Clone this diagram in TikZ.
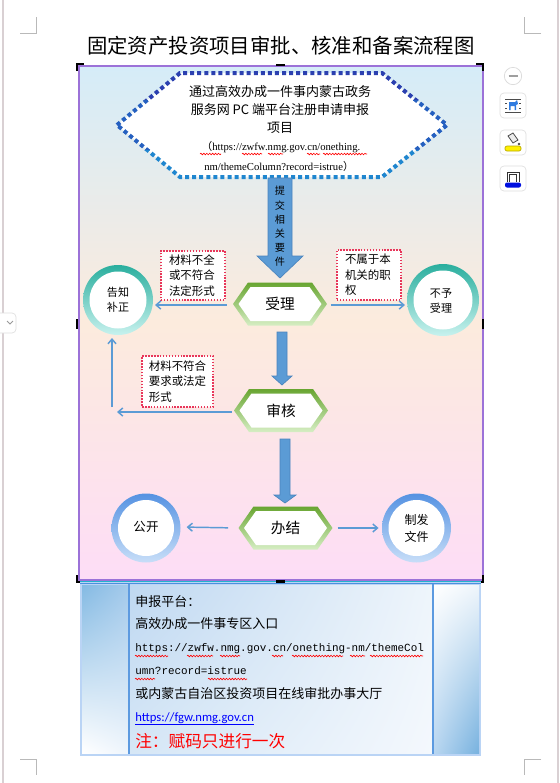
\documentclass[tikz,border=0pt]{standalone}
\usepackage{fontspec}
\setmainfont{Liberation Serif}
\newfontfamily\cjk{Noto Sans CJK SC}
\newfontfamily\monof{Liberation Mono}
\newfontfamily\calif{Carlito}
\usetikzlibrary{arrows.meta,decorations.pathmorphing,shadings}
\definecolor{arrowblue}{HTML}{5B9BD5}
\definecolor{arrowedge}{HTML}{4A84BE}
\definecolor{linkblue}{HTML}{5B9BD5}
\definecolor{dotdark}{HTML}{2B40B0}
\definecolor{dotmid}{HTML}{2560C0}
\definecolor{dotlight}{HTML}{1F86CF}
\definecolor{gdark}{HTML}{68A531}
\definecolor{glight}{HTML}{D6EEC4}
\definecolor{tealdark}{HTML}{2AAE9E}
\definecolor{teallight}{HTML}{C8F2EE}
\definecolor{bluering}{HTML}{5592E2}
\definecolor{blueringl}{HTML}{C8DEF8}
\definecolor{boxred}{HTML}{E8365A}
\definecolor{framepurple}{HTML}{9C72D8}
\definecolor{bgtop}{HTML}{D5ECF8}
\definecolor{bgmid}{HTML}{FCEBDD}
\definecolor{bgbot}{HTML}{FDDDF6}
\definecolor{panelborder}{HTML}{BAD4F5}
\definecolor{paneldiv}{HTML}{5C9AE0}
\definecolor{pagegray}{HTML}{D9D0D3}
\definecolor{lcA}{HTML}{84BAE3}
\definecolor{lcB}{HTML}{A4CAEB}
\definecolor{lcD}{HTML}{EEF5FC}
\definecolor{mcA}{HTML}{BFD8F1}
\definecolor{mcB}{HTML}{EEF5FB}
\definecolor{mcC}{HTML}{D6E7F6}
\definecolor{mcD}{HTML}{F4F8FD}
\definecolor{rcB}{HTML}{EEF5FB}
\definecolor{rcC}{HTML}{B8D6F0}
\definecolor{rcD}{HTML}{78B2DF}
\definecolor{topteal}{HTML}{22B4CC}
\definecolor{topblue}{HTML}{4A90E0}
\definecolor{dogblue}{HTML}{2F7BE0}
\definecolor{bucketedge}{HTML}{B8A800}
\definecolor{bucketyellow}{HTML}{FFF000}
\definecolor{barblue}{HTML}{0010E0}
\newcommand\hexbg[2]{%
  \shade[top color=gdark,bottom color=glight]
    (#1-47,#2) -- (#1-32,#2-21.5) -- (#1+32,#2-21.5) -- (#1+47,#2)
    -- (#1+32,#2+21.5) -- (#1-32,#2+21.5) -- cycle;
  \fill[white]
    (#1-41.5,#2) -- (#1-29.5,#2-17) -- (#1+29.5,#2-17) -- (#1+41.5,#2)
    -- (#1+29.5,#2+17) -- (#1-29.5,#2+17) -- cycle;}
\newcommand\ringbg[5]{%
  \shade[top color=#4,bottom color=#5] (#1,#2) circle[radius=#3*0.75pt];
  \fill[white] (#1,#2) circle[radius=(#3-6.5)*0.75pt];}
\begin{document}
\begin{tikzpicture}[x=0.75pt,y=-0.75pt,
  conn/.style={draw=linkblue, line width=1.1pt, -{Straight Barb[length=3.5pt,width=6pt]}},
  notebox/.style={draw=boxred, line width=1.1pt, dash pattern=on 1.1pt off 1.1pt, fill=white, align=left, inner xsep=6pt, inner ysep=0pt},
  smalltxt/.style={font=\cjk\fontsize{8.6pt}{11.6pt}\selectfont},
  hexlabel/.style={font=\cjk\fontsize{11pt}{13pt}\selectfont, minimum width=93*0.75pt, minimum height=43*0.75pt, inner sep=0pt},
  ringnode/.style={circle, minimum size=70*0.75pt, inner sep=0pt, align=center},
  wavy/.style={draw=red, line width=0.45pt, decorate, decoration={snake, segment length=2.2pt, amplitude=0.6pt}},
  blockarrow/.style={fill=arrowblue, draw=arrowedge, line width=0.5pt},
  handle/.style={draw=black, line width=1.6pt},
  panel/.style={anchor=west, inner sep=0pt},
  tbtn/.style={draw=gray!25, line width=0.5pt, rounded corners=3pt, fill=white}]
\useasboundingbox (0,0) rectangle (560,783);
\fill[white] (0,0) rectangle (560,783);
% page edges and corner marks
\draw[pagegray, line width=1.5pt] (3,0) -- (3,783);
\draw[pagegray, line width=1.5pt] (558,0) -- (558,783);
\draw[gray!55, line width=0.6pt] (20,33) -- (36,33) -- (36,17);
\draw[gray!55, line width=0.6pt] (541,33) -- (524,33) -- (524,17);
\draw[gray!55, line width=0.6pt] (20,759) -- (36,759) -- (36,775);
\draw[gray!55, line width=0.6pt] (541,759) -- (524,759) -- (524,775);
% title
\node[font=\cjk\fontsize{15.3pt}{17pt}\selectfont, inner sep=0pt] (title) at (281,46) {固定资产投资项目审批、核准和备案流程图};
% frame background
\shade[top color=bgtop, bottom color=bgbot, middle color=bgmid] (80,67) rectangle (482,579);
\draw[framepurple, line width=0.9pt] (79,66) rectangle (483,580);
% top dotted hexagon
\fill[white] (117,125) -- (180,73) -- (382,73) -- (447,125) -- (382,177) -- (180,177) -- cycle;
\begin{scope}
\clip (60,60) rectangle (500,100);
\draw[dotdark, line width=3pt, dash pattern=on 3pt off 2.3pt] (117,125) -- (180,73) -- (382,73) -- (447,125) -- (382,177) -- (180,177) -- cycle;
\end{scope}
\begin{scope}
\clip (60,100) rectangle (500,150);
\draw[dotmid, line width=3pt, dash pattern=on 3pt off 2.3pt] (117,125) -- (180,73) -- (382,73) -- (447,125) -- (382,177) -- (180,177) -- cycle;
\end{scope}
\begin{scope}
\clip (60,150) rectangle (500,200);
\draw[dotlight, line width=3pt, dash pattern=on 3pt off 2.3pt] (117,125) -- (180,73) -- (382,73) -- (447,125) -- (382,177) -- (180,177) -- cycle;
\end{scope}
\node[minimum width=330*0.75pt, minimum height=104*0.75pt, inner sep=0pt] (reg) at (282,125) {};
\node[font=\cjk\fontsize{9.75pt}{12pt}\selectfont, inner sep=0pt] (r1) at (280,92) {通过高效办成一件事内蒙古政务};
\node[font=\cjk\fontsize{9.75pt}{12pt}\selectfont, inner sep=0pt] (r2) at (280,110) {服务网 PC 端平台注册申请申报};
\node[font=\cjk\fontsize{9.75pt}{12pt}\selectfont, inner sep=0pt] (r3) at (280,128) {项目};
\node[font=\fontsize{8pt}{10pt}\selectfont, inner sep=0pt] (r4) at (281,147) {{\cjk （}https://zwfw.nmg.gov.cn/onething.};
\node[font=\fontsize{8pt}{10pt}\selectfont, inner sep=0pt] (r5) at (279,166) {nm/themeColumn?record=istrue{\cjk ）}};
\draw[wavy] (200,154) -- (221,154);
\draw[wavy] (242,154) -- (262,154);
\draw[wavy] (268,154) -- (283,154);
\draw[wavy] (307,154) -- (320,154);
\draw[wavy] (323,154) -- (367,154);
% big arrow 1
\draw[blockarrow] (268,178) -- (292,178) -- (292,256) -- (303,256) -- (280,278) -- (257,256) -- (268,256) -- cycle;
\foreach \c [count=\i from 0] in {提,交,相,关,要,件}
  \node[font=\cjk\fontsize{7.6pt}{9pt}\selectfont, inner sep=0pt] (ar\i) at (280,191+14.2*\i) {\c};
% hexagons
\hexbg{280}{304}
\node[hexlabel] (sl) at (280,304) {受理};
\hexbg{281}{410.5}
\node[hexlabel] (sh) at (281,410.5) {审核};
\hexbg{285.5}{528}
\node[hexlabel] (bj) at (285.5,528) {办结};
% arrows 2 and 3
\draw[blockarrow] (277,332) -- (287,332) -- (287,376) -- (292,376) -- (282,385) -- (272,376) -- (277,376) -- cycle;
\draw[blockarrow] (280,439) -- (290,439) -- (290,495) -- (296,495) -- (285,503) -- (274,495) -- (280,495) -- cycle;
% rings
\ringbg{118}{300}{35}{tealdark}{teallight}
\node[ringnode, font=\cjk\fontsize{8.3pt}{11.2pt}\selectfont] (gz) at (118,300) {告知\\补正};
\ringbg{443}{300}{36}{tealdark}{teallight}
\node[ringnode, font=\cjk\fontsize{8.3pt}{10.6pt}\selectfont] (by) at (441,301) {不予\\受理};
\ringbg{146}{528}{34.5}{bluering}{blueringl}
\node[ringnode, font=\cjk\fontsize{9.4pt}{12pt}\selectfont] (gk) at (146,527) {公开};
\ringbg{416.5}{528}{34.5}{bluering}{blueringl}
\node[ringnode, font=\cjk\fontsize{9pt}{12.7pt}\selectfont] (zf) at (416.5,528) {制发\\文件};
% note boxes
\node[notebox, smalltxt, text width=36pt, minimum height=49*0.75pt] (n1) at (193,275.5) {材料不全\\或不符合\\法定形式};
\node[notebox, smalltxt, text width=36pt, minimum height=50*0.75pt] (n2) at (369,275) {不属于本\\机关的职\\权};
\node[notebox, smalltxt, text width=43pt, minimum height=51*0.75pt, inner xsep=5pt] (n3) at (177.5,381.5) {材料不符合\\要求或法定\\形式};
% thin connectors
\coordinate (gzl) at (155,305);
\draw[conn, shorten <=5pt] (sl.west |- gzl) -- (gzl);
\coordinate (byl) at (405,305);
\draw[conn, shorten <=3pt] (sl.east |- byl) -- (byl);
\coordinate (shl) at (117,412);
\draw[conn, shorten <=2pt] (sh.west |- shl) -- (shl);
\coordinate (turn) at (112,407);
\coordinate (gzb) at (112,338);
\draw[conn] (turn) -- (gzb);
\draw[conn, shorten <=8pt, shorten >=4pt] (bj.west) -- (gk.east);
\draw[conn, shorten <=4pt, shorten >=2pt] (bj.east) -- (zf.west);
% selection handles
\draw[handle] (77,71) -- (77,64) -- (84,64);
\draw[handle] (476,64) -- (483,64) -- (483,71);
\draw[handle] (77,575) -- (77,582) -- (84,582);
\draw[handle] (476,582) -- (483,582) -- (483,575);
\draw[black, line width=2.2pt] (276,65) -- (285,65);
\draw[black, line width=2.2pt] (77,319) -- (77,329);
\draw[black, line width=2.2pt] (483,319) -- (483,329);
% bottom panel
\fill[panelborder] (80,582) rectangle (481,756);
\shade[upper left=lcA, upper right=lcB, lower left=white, lower right=lcD] (82,585) rectangle (128,753);
\shade[upper left=mcA, upper right=mcB, lower left=mcC, lower right=mcD] (130,585) rectangle (432,753);
\shade[upper left=white, upper right=rcB, lower left=rcC, lower right=rcD] (434,585) rectangle (479,753);
\draw[paneldiv, line width=2.2pt] (129,584) -- (129,754);
\draw[paneldiv, line width=2.2pt] (433,584) -- (433,754);
\draw[topteal, line width=0.8pt] (80,581.5) -- (481,581.5);
\draw[topblue, line width=1.4pt] (80,583.5) -- (481,583.5);
\draw[black, line width=2.2pt] (276,581.5) -- (285,581.5);
\node[panel, font=\cjk\fontsize{9.75pt}{12pt}\selectfont] (p1) at (135,602) {申报平台：};
\node[panel, font=\cjk\fontsize{9.75pt}{12pt}\selectfont] (p2) at (135,624) {高效办成一件事专区入口};
\node[panel, font=\monof\fontsize{8.2pt}{10pt}\selectfont] (p3) at (135,649) {https://zwfw.nmg.gov.cn/onething-nm/themeCol};
\node[panel, font=\monof\fontsize{8.2pt}{10pt}\selectfont] (p4) at (135,671) {umn?record=istrue};
\node[panel, font=\cjk\fontsize{9.75pt}{12pt}\selectfont] (p5) at (135,694) {或内蒙古自治区投资项目在线审批办事大厅};
\node[panel, font=\calif\fontsize{9.5pt}{11pt}\selectfont, text=blue] (p6) at (135,718) {https://fgw.nmg.gov.cn};
\draw[blue, line width=0.5pt] ([yshift=-0.6pt]p6.south west) -- ([yshift=-0.6pt]p6.south east);
\node[panel, font=\cjk\fontsize{12.5pt}{14pt}\selectfont, text=red] (p7) at (135,741) {注：赋码只进行一次};
\draw[wavy] (135,656) -- (168,656);
\draw[wavy] (187,656) -- (213,656);
\draw[wavy] (220,656) -- (240,656);
\draw[wavy] (272,656) -- (283,656);
\draw[wavy] (292,656) -- (343,656);
\draw[wavy] (350,656) -- (365,656);
\draw[wavy] (370,656) -- (423,656);
\draw[wavy] (135,679) -- (155,679);
\draw[wavy] (208,679) -- (247,679);
% side toolbar
\fill[white, draw=gray!30, line width=0.5pt] (513,76) circle[radius=6.5pt];
\draw[gray!75, line width=1.3pt] (508.5,76) -- (517.5,76);
\draw[tbtn] (500,93) rectangle (526,118);
\draw[black!70, line width=0.5pt] (505,99) -- (521,99) (505,112) -- (521,112);
\draw[black!70, line width=0.5pt] (505,103) -- (507,103) (519,103) -- (521,103) (505,108) -- (507,108) (519,108) -- (521,108);
\fill[dogblue] (509,102) -- (515,102) -- (517,100) -- (518,104) -- (516,105) -- (516,110) -- (514.5,110) -- (514.5,106) -- (510.5,106) -- (510.5,110) -- (509,110) -- cycle;
\draw[tbtn] (500,130) rectangle (526,155);
\draw[black!70, line width=0.6pt, fill=gray!15] (508,136) -- (513,133) -- (518,140) -- (513,143) -- cycle;
\fill[black!70] (519,144) circle[radius=1pt];
\draw[draw=bucketedge, line width=0.5pt, fill=bucketyellow, rounded corners=1.5pt] (505,146) rectangle (521,151);
\draw[tbtn] (500,166) rectangle (526,191);
\draw[black!80, line width=0.6pt] (507,182) -- (507,172) -- (519,172) -- (519,182) (509.5,182) -- (509.5,174.5) -- (516.5,174.5) -- (516.5,182);
\fill[barblue, rounded corners=1.5pt] (505,182.5) rectangle (521,187.5);
\draw[tbtn] (-5,313) rectangle (16,333);
\draw[gray!80, line width=0.7pt] (7,321) -- (10,324) -- (13,321);
\end{tikzpicture}
\end{document}
